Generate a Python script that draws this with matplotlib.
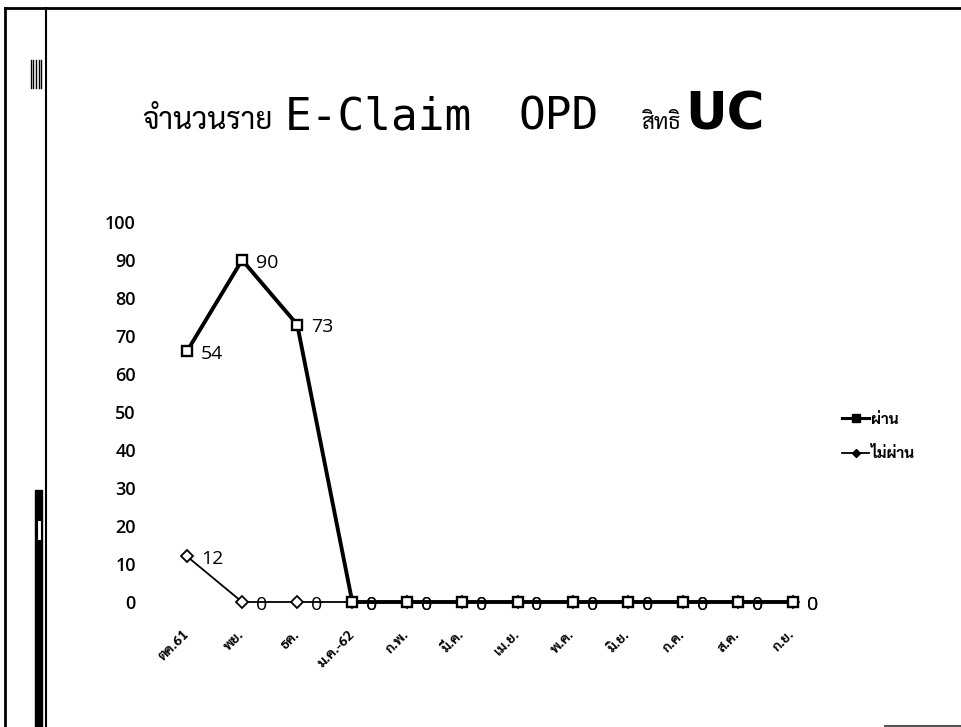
import matplotlib
matplotlib.use("Agg")
import matplotlib.pyplot as plt
from matplotlib.lines import Line2D
from matplotlib.patches import Rectangle

months = ["ตค.61", "พย.", "ธค.", "ม.ค.-62", "ก.พ.", "มี.ค.", "เม.ย.", "พ.ค.", "มิ.ย.", "ก.ค.", "ส.ค.", "ก.ย."]
passed = [66, 90, 73, 0, 0, 0, 0, 0, 0, 0, 0, 0]
passed_labels = ["54", "90", "73", "0", "0", "0", "0", "0", "0", "0", "0", "0"]
failed = [12, 0, 0, 0, 0, 0, 0, 0, 0, 0, 0, 0]
failed_labels = ["12", "0", "0", "0", "0", "0", "0", "0", "0", "0", "0", "0"]
yticks = [0, 10, 20, 30, 40, 50, 60, 70, 80, 90, 100]

W, H = 962, 727
thai = ["Sarabun", "DejaVu Sans"]
num = ["Open Sans", "DejaVu Sans"]

fig = plt.figure(figsize=(W / 100, H / 100), dpi=100)
ax = fig.add_axes([159.5 / W, 1 - 602 / H, 661 / W, 380 / H])

x = list(range(len(months)))
ax.plot(x, failed, color="black", lw=1.3, marker="D", markersize=6,
        markerfacecolor="white", markeredgecolor="black", markeredgewidth=1.3,
        clip_on=False, zorder=3)
ax.plot(x, passed, color="black", lw=2.8, marker="s", markersize=7.5,
        markerfacecolor="white", markeredgecolor="black", markeredgewidth=1.7,
        clip_on=False, zorder=4)

for xi, v, lab in zip(x, failed, failed_labels):
    ax.annotate(lab, (xi, v), xytext=(10, -2), textcoords="offset points",
                ha="left", va="center", fontsize=14, family=num, annotation_clip=False)
for xi, v, lab in zip(x, passed, passed_labels):
    ax.annotate(lab, (xi, v), xytext=(10, -2), textcoords="offset points",
                ha="left", va="center", fontsize=14, family=num, annotation_clip=False)

ax.set_xlim(-0.5, len(months) - 0.5)
ax.set_ylim(0, 100)
ax.set_yticks(yticks)
ax.set_yticklabels([str(t) for t in yticks], fontsize=13, fontweight="semibold", family=num)
ax.set_xticks(x)
ax.set_xticklabels(months, rotation=45, ha="right", va="center", rotation_mode="anchor",
                   fontsize=10, fontweight="bold", family=thai)
ax.tick_params(axis="y", length=0, pad=17)
ax.tick_params(axis="x", length=0, pad=22)
for s in ax.spines.values():
    s.set_visible(False)

handles = [
    Line2D([], [], color="black", lw=2.2, marker="s", markersize=6, markerfacecolor="black"),
    Line2D([], [], color="black", lw=1.3, marker="D", markersize=4, markerfacecolor="black"),
]
fig.legend(handles, ["ผ่าน", "ไม่ผ่าน"], loc="center left", bbox_to_anchor=(828 / W, 1 - 437 / H),
           frameon=False, handlelength=1.8, handletextpad=0.1, labelspacing=1.3,
           prop={"family": thai, "size": 11, "weight": "bold"})

# title in pieces
by = 1 - 129 / H
fig.text(142 / W, by, "จำนวนราย", fontsize=21.5, family=thai, va="baseline")
fig.text(285 / W, by, "E-Claim", fontsize=32, family=["DejaVu Sans Mono"], va="baseline")
fig.text(519 / W, by, "OPD", fontsize=32, family=["DejaVu Sans Mono"], va="baseline")
fig.text(641 / W, by, "สิทธิ", fontsize=16, family=thai, va="baseline")
fig.text(685 / W, by, "UC", fontsize=37, family=["DejaVu Sans"], fontweight="bold", va="baseline")


# scanned page border
def hline(y, x0, x1, lw=2, color="black"):
    fig.add_artist(Line2D([x0 / W, x1 / W], [1 - y / H, 1 - y / H], color=color, lw=lw))


def vline(xp, y0, y1, lw=2, color="black"):
    fig.add_artist(Line2D([xp / W, xp / W], [1 - y0 / H, 1 - y1 / H], color=color, lw=lw))


hline(8, 5, W)
vline(5, 8, H)
vline(46, 8, H, lw=1.5)
hline(726, 885, W, lw=1.5, color="#555555")
for xp in (31, 33, 36, 39, 41):
    vline(xp, 60, 88, lw=1)
fig.add_artist(Rectangle((35 / W, 0), 7 / W, (H - 490) / H, transform=fig.transFigure,
                         color="black"))
fig.add_artist(Rectangle((36.5 / W, 1 - 540 / H), 4 / W, 20 / H, transform=fig.transFigure,
                         facecolor="white", edgecolor="black", lw=0.8))

fig.savefig("out.png")
